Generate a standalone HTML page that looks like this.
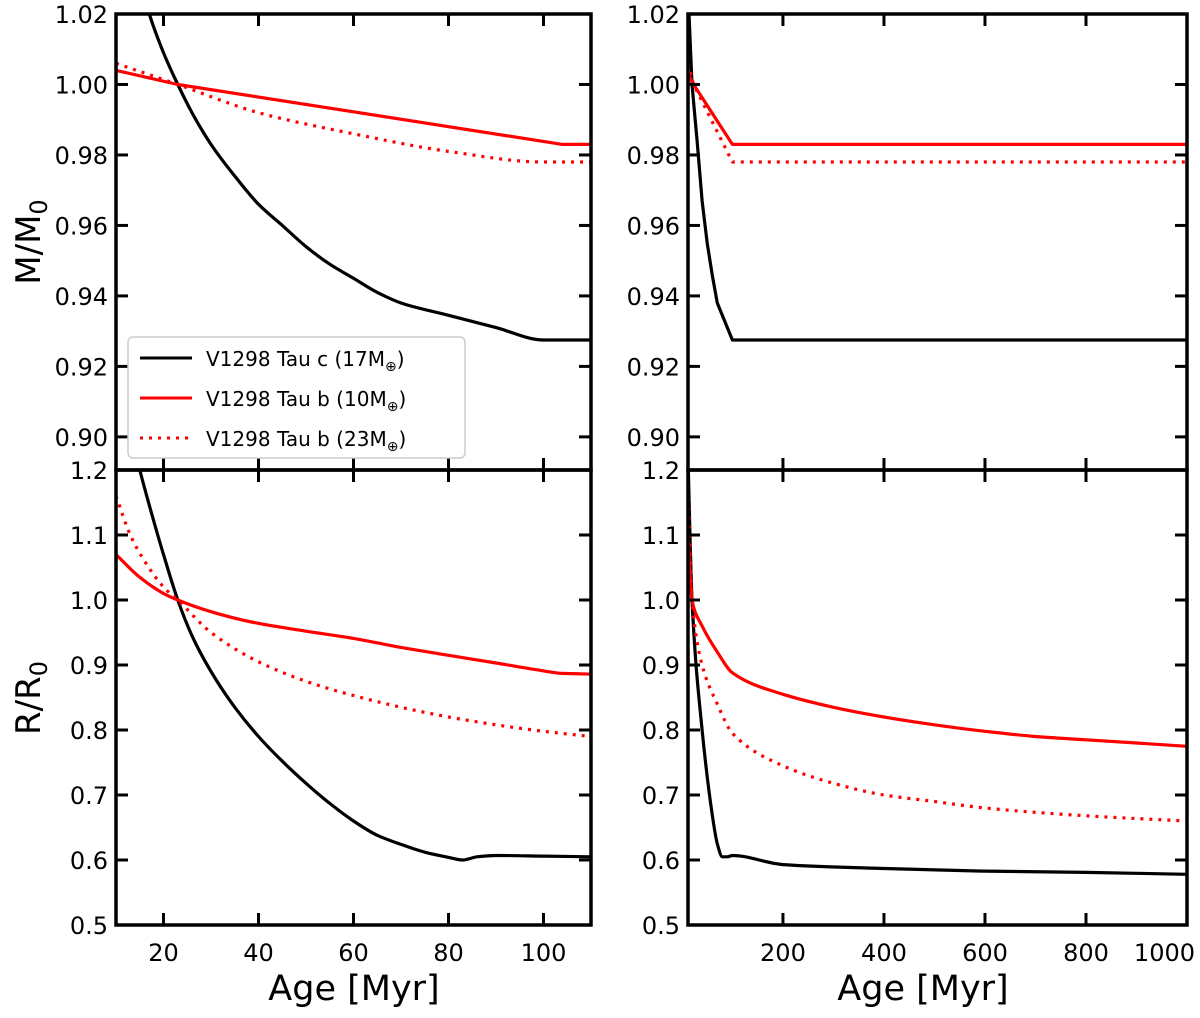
<!DOCTYPE html>
<html><head><meta charset="utf-8"><style>
body{margin:0;background:#fff}
svg text{font-family:"DejaVu Sans","Liberation Sans",sans-serif;fill:#000}
</style></head><body>
<svg id="c" width="1200" height="1013" xmlns="http://www.w3.org/2000/svg"></svg>
<script>
// ---- data ----
const cMassLeftAge=[14,17,20,23,26,30,35,40,45,50,55,60,65,70,80,90,100,110];
const cMassLeftVal=[1.035,1.02,1.009,1.0,0.992,0.983,0.974,0.966,0.960,0.954,0.949,0.945,0.941,0.938,0.9345,0.931,0.9275,0.9275];
const b10MassLeftAge=[10,23,104,110];
const b10MassLeftVal=[1.004,1.0,0.983,0.983];
const b23MassLeftAge=[10,23,40,60,80,100,110];
const b23MassLeftVal=[1.006,1.0,0.992,0.986,0.981,0.978,0.978];
const cMassRightAge=[12,14,20,30,40,50,60,70,100,1000];
const cMassRightVal=[1.04,1.02,1.0,0.984,0.967,0.955,0.946,0.938,0.9275,0.9275];
const b10MassRightAge=[12,23,100,1000];
const b10MassRightVal=[1.003,1.0,0.983,0.983];
const b23MassRightAge=[12,23,100,1000];
const b23MassRightVal=[1.006,1.0,0.978,0.978];
const cRadLeftAge=[14,15,18,20,23,26,30,35,40,45,50,55,60,65,70,75,80,83,86,90,100,110];
const cRadLeftVal=[1.23,1.2,1.12,1.07,1.0,0.945,0.89,0.835,0.79,0.752,0.718,0.687,0.66,0.638,0.624,0.612,0.604,0.600,0.605,0.607,0.606,0.605];
const b10RadLeftAge=[10,15,20,23,30,38,50,60,70,80,90,100,104,110];
const b10RadLeftVal=[1.07,1.035,1.01,1.0,0.982,0.967,0.952,0.941,0.927,0.915,0.903,0.891,0.887,0.886];
const b23RadLeftAge=[10,13,16,20,23,30,40,50,60,70,80,90,100,110];
const b23RadLeftVal=[1.16,1.10,1.06,1.02,1.0,0.95,0.905,0.875,0.853,0.835,0.82,0.808,0.798,0.79];
const cRadRightAge=[12,20,40,60,70,80,90,100,200,400,600,800,1000];
const cRadRightVal=[1.22,1.0,0.8,0.67,0.625,0.605,0.605,0.607,0.593,0.587,0.583,0.581,0.578];
const b10RadRightAge=[12,20,40,70,100,200,300,400,500,600,700,800,1000];
const b10RadRightVal=[1.1,1.0,0.96,0.92,0.888,0.855,0.835,0.82,0.808,0.798,0.79,0.785,0.775];
const b23RadRightAge=[12,20,40,70,100,200,300,400,500,600,800,1000];
const b23RadRightVal=[1.17,1.0,0.9,0.84,0.795,0.745,0.718,0.7,0.69,0.68,0.668,0.66];
const massTicks=[0.90,0.92,0.94,0.96,0.98,1.00,1.02];
const massTickLabels=["0.90","0.92","0.94","0.96","0.98","1.00","1.02"];
const radTicks=[0.5,0.6,0.7,0.8,0.9,1.0,1.1,1.2];
const radTickLabels=["0.5","0.6","0.7","0.8","0.9","1.0","1.1","1.2"];
const leftXTicks=[20,40,60,80,100];
const rightXTicks=[200,400,600,800,1000];

const svg=document.getElementById('c');
const NS='http://www.w3.org/2000/svg';
function mk(tag,attrs,parent){const e=document.createElementNS(NS,tag);for(const k in attrs)e.setAttribute(k,attrs[k]);(parent||svg).appendChild(e);return e;}

function linearPath(pts){return pts.map((p,i)=>(i?'L':'M')+p[0].toFixed(1)+','+p[1].toFixed(1)).join(' ');}
// monotone cubic (Fritsch-Carlson) - no overshoot
function smoothPath(pts){
  const n=pts.length;if(n<3)return linearPath(pts);
  const dx=[],s=[];
  for(let i=0;i<n-1;i++){dx[i]=pts[i+1][0]-pts[i][0];s[i]=(pts[i+1][1]-pts[i][1])/dx[i];}
  const m=[s[0]];
  for(let i=1;i<n-1;i++){
    if(s[i-1]*s[i]<=0)m[i]=0;
    else{const w1=2*dx[i]+dx[i-1],w2=dx[i]+2*dx[i-1];m[i]=(w1+w2)/(w1/s[i-1]+w2/s[i]);}
  }
  m[n-1]=s[n-2];
  let d='M'+pts[0][0].toFixed(1)+','+pts[0][1].toFixed(1);
  for(let i=0;i<n-1;i++){
    const h=dx[i]/3;
    d+=' C'+(pts[i][0]+h).toFixed(1)+','+(pts[i][1]+m[i]*h).toFixed(1)+' '+(pts[i+1][0]-h).toFixed(1)+','+(pts[i+1][1]-m[i+1]*h).toFixed(1)+' '+pts[i+1][0].toFixed(1)+','+pts[i+1][1].toFixed(1);
  }
  return d;
}

function panel(name,x0,x1,y0,y1,xmin,xmax,ymin,ymax,yt,ytl,xt,showX,series){
  const g=mk('g',{});
  
  
  const sx=v=>x0+(v-xmin)/(xmax-xmin)*(x1-x0);
  const sy=v=>y1-(v-ymin)/(ymax-ymin)*(y1-y0);
  const cid='clip-'+name;
  const cp=mk('clipPath',{id:cid},g);mk('rect',{x:x0,y:y0,width:x1-x0,height:y1-y0},cp);
  series.forEach(s=>{
    const pts=s.ages.map((a,i)=>[sx(a),sy(s.vals[i])]);
    const p=mk('path',{d:s.linear?linearPath(pts):smoothPath(pts),fill:'none',stroke:s.color,'stroke-width':3.2,'stroke-linejoin':'round','clip-path':'url(#'+cid+')','stroke-dasharray':s.dash||'none'},g);
    
    
  });
  yt.forEach((v,i)=>{
    const y=sy(v);
    mk('line',{x1:x0,x2:x0+12,y1:y,y2:y,stroke:'#000','stroke-width':3},g);
    mk('line',{x1:x1,x2:x1-12,y1:y,y2:y,stroke:'#000','stroke-width':3},g);
    const t=mk('text',{x:x0-8,y:y+9,'text-anchor':'end','font-size':24},g);
    t.textContent=ytl[i];
    
    
  });
  xt.forEach((v,i)=>{
    const x=sx(v);
    mk('line',{x1:x,x2:x,y1:y1,y2:y1-12,stroke:'#000','stroke-width':3},g);
    mk('line',{x1:x,x2:x,y1:y0,y2:y0+12,stroke:'#000','stroke-width':3},g);
    if(showX){
      const last=(x>1150);
      const t=mk('text',{x:last?1195:x,y:y1+36,'text-anchor':last?'end':'middle','font-size':24},g);
      t.textContent=String(v);
      
      
    }
  });
  mk('rect',{x:x0,y:y0,width:x1-x0,height:y1-y0,fill:'none',stroke:'#000','stroke-width':3.5},g);
}
const R='#ff0000';
panel('mass-left',116,591,14,470,10,110,0.8906,1.02,massTicks,massTickLabels,leftXTicks,false,[
 {name:'c-mass-line',ages:cMassLeftAge,vals:cMassLeftVal,color:'#000'},
 {name:'b10-mass-line',ages:b10MassLeftAge,vals:b10MassLeftVal,color:R,linear:true},
 {name:'b23-mass-line',ages:b23MassLeftAge,vals:b23MassLeftVal,color:R,dash:'3,6'}]);
panel('mass-right',688,1187,14,470,12,1000,0.8906,1.02,massTicks,massTickLabels,rightXTicks,false,[
 {name:'c-mass-line',ages:cMassRightAge,vals:cMassRightVal,color:'#000',linear:true},
 {name:'b10-mass-line',ages:b10MassRightAge,vals:b10MassRightVal,color:R,linear:true},
 {name:'b23-mass-line',ages:b23MassRightAge,vals:b23MassRightVal,color:R,dash:'3,6',linear:true}]);
panel('radius-left',116,591,470,925,10,110,0.5,1.2,radTicks,radTickLabels,leftXTicks,true,[
 {name:'c-radius-line',ages:cRadLeftAge,vals:cRadLeftVal,color:'#000'},
 {name:'b10-radius-line',ages:b10RadLeftAge,vals:b10RadLeftVal,color:R},
 {name:'b23-radius-line',ages:b23RadLeftAge,vals:b23RadLeftVal,color:R,dash:'3,6'}]);
panel('radius-right',688,1187,470,925,12,1000,0.5,1.2,radTicks,radTickLabels,rightXTicks,true,[
 {name:'c-radius-line',ages:cRadRightAge,vals:cRadRightVal,color:'#000'},
 {name:'b10-radius-line',ages:b10RadRightAge,vals:b10RadRightVal,color:R},
 {name:'b23-radius-line',ages:b23RadRightAge,vals:b23RadRightVal,color:R,dash:'3,6'}]);
</script>
<svg width="1200" height="1013" style="position:absolute;left:0;top:0" xmlns="http://www.w3.org/2000/svg">
 <g>
  <rect x="128" y="337" width="337" height="121" rx="5" fill="#fff" fill-opacity="0.85" stroke="#ccc" stroke-width="1.5"/>
  <line x1="140" x2="192" y1="358" y2="358" stroke="#000" stroke-width="3"/>
  <text x="206" y="366" font-size="20">V1298 Tau c (17M<tspan font-size="14" dy="5">⊕</tspan><tspan dy="-5">)</tspan></text>
  <line x1="140" x2="192" y1="398" y2="398" stroke="#f00" stroke-width="3"/>
  <text x="206" y="406" font-size="20">V1298 Tau b (10M<tspan font-size="14" dy="5">⊕</tspan><tspan dy="-5">)</tspan></text>
  <line x1="140" x2="192" y1="438" y2="438" stroke="#f00" stroke-width="3" stroke-dasharray="3,6"/>
  <text x="206" y="446" font-size="20">V1298 Tau b (23M<tspan font-size="14" dy="5">⊕</tspan><tspan dy="-5">)</tspan></text>
 </g>
 <text transform="translate(40,242) rotate(-90)" text-anchor="middle" font-size="34">M/M<tspan font-size="24" dy="7">0</tspan></text>
 <text transform="translate(40,698) rotate(-90)" text-anchor="middle" font-size="34">R/R<tspan font-size="24" dy="7">0</tspan></text>
 <text x="354" y="1000" text-anchor="middle" font-size="35">Age [Myr]</text>
 <text x="923" y="1000" text-anchor="middle" font-size="35">Age [Myr]</text>
</svg>
</body></html>
